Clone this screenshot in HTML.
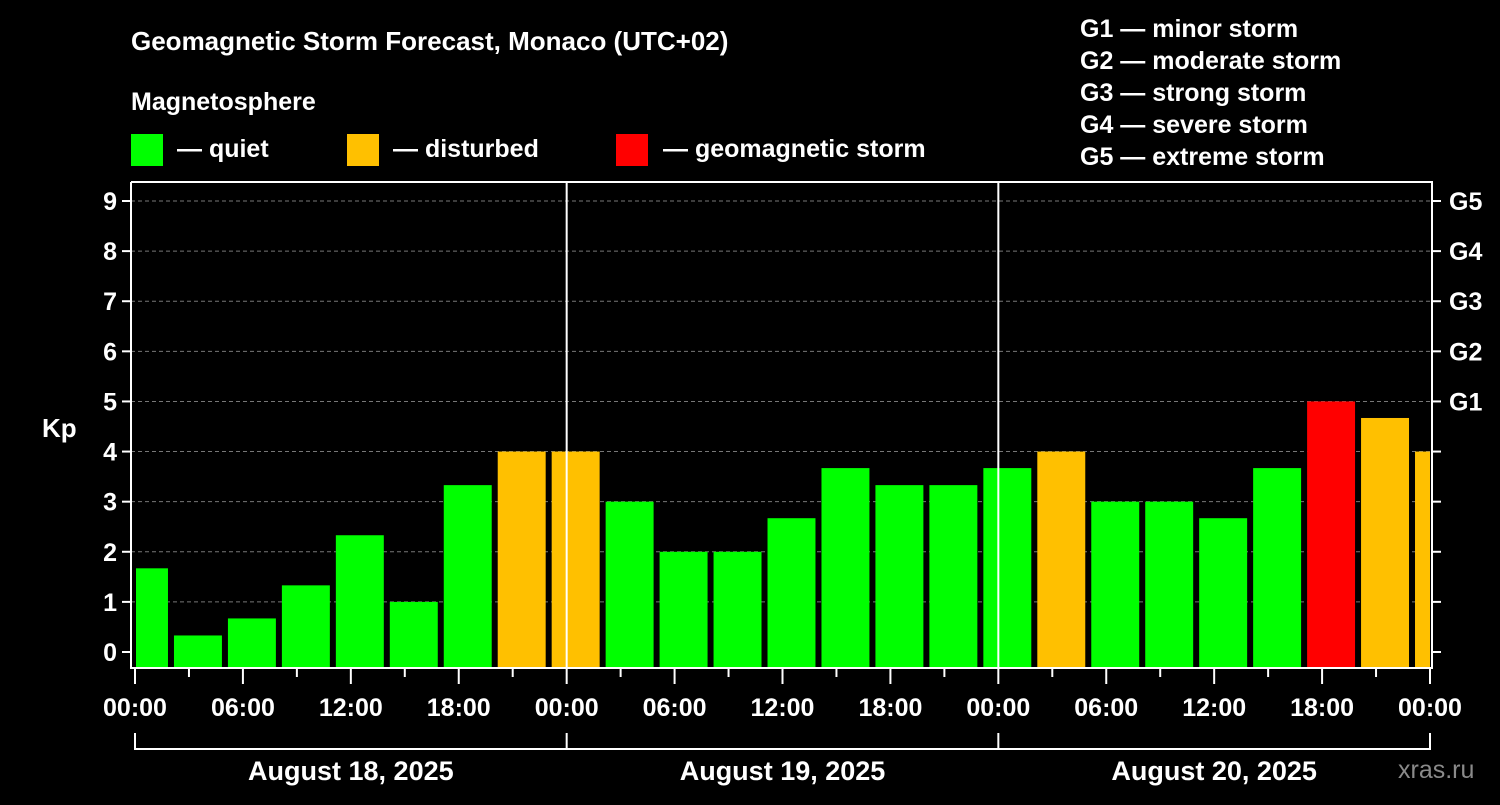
<!DOCTYPE html>
<html><head><meta charset="utf-8"><style>
body{margin:0;background:#000;width:1500px;height:800px;overflow:hidden}
svg text{font-family:"Liberation Sans",Arial,sans-serif;font-weight:bold;fill:#fff}
</style></head><body>
<svg id="c" width="1500" height="800">
<text x="131" y="50" font-size="26">Geomagnetic Storm Forecast, Monaco (UTC+02)</text>
<text x="131" y="110" font-size="25">Magnetosphere</text>
<rect x="131" y="134" width="32" height="32" fill="#00ff00"/>
<text x="177" y="157" font-size="25">— quiet</text>
<rect x="347" y="134" width="32" height="32" fill="#ffc000"/>
<text x="393" y="157" font-size="25">— disturbed</text>
<rect x="616" y="134" width="32" height="32" fill="#ff0000"/>
<text x="663" y="157" font-size="25">— geomagnetic storm</text>
<g font-size="25">
<text x="1080" y="37">G1 — minor storm</text>
<text x="1080" y="69">G2 — moderate storm</text>
<text x="1080" y="101">G3 — strong storm</text>
<text x="1080" y="133">G4 — severe storm</text>
<text x="1080" y="165">G5 — extreme storm</text>
</g>
<text x="42" y="437" font-size="26">Kp</text>
<text x="1398" y="778" font-size="25" fill="#888" style="fill:#8a8a8a;font-weight:normal">xras.ru</text>
<g id="grid"></g><g id="bars"></g><g id="axes"></g>
</svg>
<script>
const values=[1.67,0.33,0.67,1.33,2.33,1.0,3.33,4.0,4.0,3.0,2.0,2.0,2.67,3.67,3.33,3.33,3.67,4.0,3.0,3.0,2.67,3.67,5.0,4.67,4.0];
const startHours=[-1,2,5,8,11,14,17,20,23,26,29,32,35,38,41,44,47,50,53,56,59,62,65,68,71];
const yTicks=[0,1,2,3,4,5,6,7,8,9];
const gLabels=["G1","G2","G3","G4","G5"];
const gLevels=[5,6,7,8,9];
const xTickLabels=["00:00","06:00","12:00","18:00","00:00","06:00","12:00","18:00","00:00","06:00","12:00","18:00","00:00"];
const dayLabels=["August 18, 2025","August 19, 2025","August 20, 2025"];
const NS="http://www.w3.org/2000/svg";
const L=131,R=1432,T=182,B=668;
const X=h=>135+h*(1430-135)/72;
const Y=v=>652-v*(652-201)/9;
function mk(p,tag,a){const e=document.createElementNS(NS,tag);for(const k in a)e.setAttribute(k,a[k]);document.getElementById(p).appendChild(e);return e;}
yTicks.forEach(v=>{if(v>0){const e=mk('grid','line',{x1:L,x2:R,y1:Y(v),y2:Y(v),stroke:'#777','stroke-dasharray':'4,3','stroke-width':1});

}
const t=mk('axes','line',{x1:L-9,x2:L,y1:Y(v),y2:Y(v),stroke:'#fff','stroke-width':2});


const r=mk('axes','line',{x1:R,x2:R+9,y1:Y(v),y2:Y(v),stroke:'#fff','stroke-width':2});


const l=mk('axes','text',{x:L-14,y:Y(v)+9,'font-size':25,'text-anchor':'end'});l.textContent=v;

});
gLabels.forEach((g,i)=>{const l=mk('axes','text',{x:1449,y:Y(gLevels[i])+9,'font-size':25});l.textContent=g;

});
values.forEach((v,i)=>{let h0=Math.max(0,startHours[i]),h1=Math.min(72,startHours[i]+3);
let x0=X(h0)+(startHours[i]<0?1:3),x1=X(h1)-(startHours[i]+3>72?0:3);
const c=v>=5?'#ff0000':(v>=4?'#ffc000':'#00ff00');
const b=mk('bars','rect',{x:x0,y:Y(v),width:x1-x0,height:B-Y(v),fill:c});

});
[24,48].forEach(h=>{const d=mk('axes','line',{x1:X(h),x2:X(h),y1:T,y2:B,stroke:'#fff','stroke-width':2});

});
const f=mk('axes','polyline',{points:`${L},${T} ${R},${T} ${R},${B} ${L},${B} ${L},${T}`,fill:'none',stroke:'#fff','stroke-width':2});


for(let h=0;h<=72;h+=3){const maj=h%6==0;const t=mk('axes','line',{x1:X(h),x2:X(h),y1:B,y2:B+(maj?16:9),stroke:'#fff','stroke-width':2});

}
xTickLabels.forEach((s,i)=>{const t=mk('axes','text',{x:X(i*6),y:716,'font-size':25,'text-anchor':'middle'});t.textContent=s;

});
const br=mk('axes','line',{x1:X(0),x2:X(72),y1:749,y2:749,stroke:'#fff','stroke-width':2});


[0,24,48,72].forEach(h=>{const t=mk('axes','line',{x1:X(h),x2:X(h),y1:733,y2:750,stroke:'#fff','stroke-width':2});

});
dayLabels.forEach((s,i)=>{const t=mk('axes','text',{x:X(i*24+12),y:780,'font-size':27,'text-anchor':'middle'});t.textContent=s;

});
</script>
</body></html>
